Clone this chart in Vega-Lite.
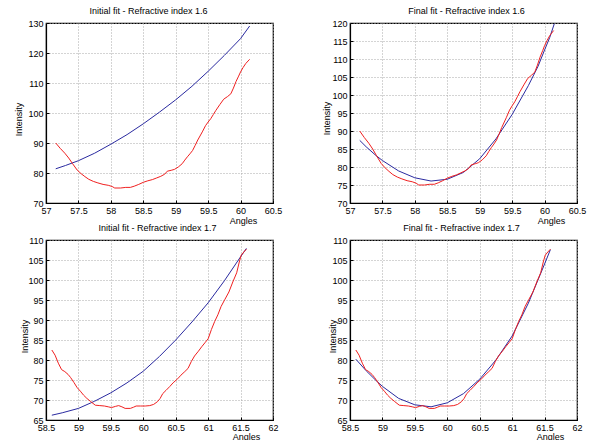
{
  "$schema": "https://vega.github.io/schema/vega-lite/v6.json",
  "padding": {"left": 13, "top": 6, "right": 0, "bottom": 0},
  "bounds": "flush",
  "columns": 2,
  "spacing": {"row": 37, "column": 77},
  "datasets": {
    "top_measured": [
      {"angle": 57.15, "intensity": 90.0}, {"angle": 57.22, "intensity": 88.2}, {"angle": 57.29, "intensity": 86.6}, {"angle": 57.35, "intensity": 85.0},
      {"angle": 57.41, "intensity": 83.1}, {"angle": 57.48, "intensity": 81.0}, {"angle": 57.54, "intensity": 79.8}, {"angle": 57.6, "intensity": 78.8},
      {"angle": 57.66, "intensity": 77.9}, {"angle": 57.73, "intensity": 77.2}, {"angle": 57.8, "intensity": 76.7}, {"angle": 57.88, "intensity": 76.2},
      {"angle": 57.96, "intensity": 75.9}, {"angle": 58.02, "intensity": 75.5}, {"angle": 58.06, "intensity": 75.0}, {"angle": 58.15, "intensity": 75.0},
      {"angle": 58.23, "intensity": 75.2}, {"angle": 58.3, "intensity": 75.2}, {"angle": 58.36, "intensity": 75.6}, {"angle": 58.43, "intensity": 76.2},
      {"angle": 58.5, "intensity": 76.9}, {"angle": 58.57, "intensity": 77.4}, {"angle": 58.64, "intensity": 77.8}, {"angle": 58.7, "intensity": 78.3},
      {"angle": 58.77, "intensity": 78.9}, {"angle": 58.83, "intensity": 79.6}, {"angle": 58.87, "intensity": 80.6}, {"angle": 58.93, "intensity": 80.9},
      {"angle": 58.98, "intensity": 81.2}, {"angle": 59.04, "intensity": 82.0}, {"angle": 59.1, "intensity": 83.1}, {"angle": 59.14, "intensity": 84.3},
      {"angle": 59.18, "intensity": 85.4}, {"angle": 59.22, "intensity": 86.4}, {"angle": 59.26, "intensity": 87.5}, {"angle": 59.3, "intensity": 89.2},
      {"angle": 59.34, "intensity": 91.0}, {"angle": 59.41, "intensity": 93.7}, {"angle": 59.46, "intensity": 95.8}, {"angle": 59.5, "intensity": 97.0},
      {"angle": 59.54, "intensity": 98.1}, {"angle": 59.58, "intensity": 99.5}, {"angle": 59.62, "intensity": 100.9}, {"angle": 59.68, "intensity": 102.8},
      {"angle": 59.74, "intensity": 104.6}, {"angle": 59.8, "intensity": 105.5}, {"angle": 59.85, "intensity": 106.4}, {"angle": 59.89, "intensity": 108.3},
      {"angle": 59.93, "intensity": 110.5}, {"angle": 59.97, "intensity": 112.3}, {"angle": 60.0, "intensity": 113.7}, {"angle": 60.04, "intensity": 115.2},
      {"angle": 60.08, "intensity": 116.5}, {"angle": 60.14, "intensity": 117.9}
    ],
    "bottom_measured": [
      {"angle": 58.59, "intensity": 82.5}, {"angle": 58.64, "intensity": 81.2}, {"angle": 58.69, "intensity": 79.2}, {"angle": 58.74, "intensity": 77.6},
      {"angle": 58.79, "intensity": 77.1}, {"angle": 58.84, "intensity": 76.4}, {"angle": 58.88, "intensity": 75.6}, {"angle": 58.93, "intensity": 74.4},
      {"angle": 58.98, "intensity": 73.1}, {"angle": 59.03, "intensity": 72.2}, {"angle": 59.08, "intensity": 71.2}, {"angle": 59.13, "intensity": 70.4},
      {"angle": 59.19, "intensity": 69.6}, {"angle": 59.26, "intensity": 68.7}, {"angle": 59.33, "intensity": 68.6}, {"angle": 59.4, "intensity": 68.5},
      {"angle": 59.46, "intensity": 68.3}, {"angle": 59.51, "intensity": 68.1}, {"angle": 59.57, "intensity": 68.4}, {"angle": 59.62, "intensity": 68.6},
      {"angle": 59.67, "intensity": 68.3}, {"angle": 59.72, "intensity": 67.9}, {"angle": 59.8, "intensity": 67.9}, {"angle": 59.85, "intensity": 68.2},
      {"angle": 59.89, "intensity": 68.5}, {"angle": 59.96, "intensity": 68.5}, {"angle": 60.03, "intensity": 68.5}, {"angle": 60.1, "intensity": 68.6},
      {"angle": 60.16, "intensity": 68.9}, {"angle": 60.22, "intensity": 69.6}, {"angle": 60.26, "intensity": 70.4}, {"angle": 60.3, "intensity": 71.6},
      {"angle": 60.35, "intensity": 72.4}, {"angle": 60.41, "intensity": 73.4}, {"angle": 60.46, "intensity": 74.3}, {"angle": 60.53, "intensity": 75.3},
      {"angle": 60.58, "intensity": 76.2}, {"angle": 60.64, "intensity": 77.1}, {"angle": 60.69, "intensity": 77.9}, {"angle": 60.74, "intensity": 79.6},
      {"angle": 60.79, "intensity": 81.0}, {"angle": 60.85, "intensity": 82.2}, {"angle": 60.9, "intensity": 83.3}, {"angle": 60.95, "intensity": 84.3},
      {"angle": 61.0, "intensity": 85.3}, {"angle": 61.05, "intensity": 87.6}, {"angle": 61.1, "intensity": 89.6}, {"angle": 61.15, "intensity": 91.3},
      {"angle": 61.2, "intensity": 93.4}, {"angle": 61.26, "intensity": 95.2}, {"angle": 61.32, "intensity": 97.0}, {"angle": 61.38, "intensity": 99.5},
      {"angle": 61.44, "intensity": 101.8}, {"angle": 61.48, "intensity": 104.5}, {"angle": 61.51, "intensity": 106.2}, {"angle": 61.55, "intensity": 107.0},
      {"angle": 61.59, "intensity": 107.7}
    ],
    "fit_initial_16": [
      {"angle": 57.15, "intensity": 81.4}, {"angle": 57.3, "intensity": 82.5}, {"angle": 57.5, "intensity": 84.1}, {"angle": 57.75, "intensity": 86.6},
      {"angle": 58.0, "intensity": 89.6}, {"angle": 58.25, "intensity": 92.8}, {"angle": 58.5, "intensity": 96.4}, {"angle": 58.75, "intensity": 100.3},
      {"angle": 59.0, "intensity": 104.4}, {"angle": 59.25, "intensity": 108.9}, {"angle": 59.5, "intensity": 113.9}, {"angle": 59.75, "intensity": 119.2},
      {"angle": 60.0, "intensity": 124.8}, {"angle": 60.14, "intensity": 129.0}
    ],
    "fit_final_16": [
      {"angle": 57.15, "intensity": 87.4}, {"angle": 57.25, "intensity": 85.6}, {"angle": 57.4, "intensity": 83.2}, {"angle": 57.5, "intensity": 81.8},
      {"angle": 57.75, "intensity": 78.9}, {"angle": 58.0, "intensity": 77.0}, {"angle": 58.25, "intensity": 76.1}, {"angle": 58.5, "intensity": 76.6},
      {"angle": 58.75, "intensity": 78.5}, {"angle": 59.0, "intensity": 82.3}, {"angle": 59.25, "intensity": 87.8}, {"angle": 59.5, "intensity": 94.6},
      {"angle": 59.75, "intensity": 102.6}, {"angle": 59.9, "intensity": 108.0}, {"angle": 60.0, "intensity": 112.5}, {"angle": 60.08, "intensity": 116.0},
      {"angle": 60.15, "intensity": 119.8}
    ],
    "fit_initial_17": [
      {"angle": 58.59, "intensity": 66.2}, {"angle": 58.75, "intensity": 66.8}, {"angle": 59.0, "intensity": 67.9}, {"angle": 59.25, "intensity": 69.7},
      {"angle": 59.5, "intensity": 71.8}, {"angle": 59.75, "intensity": 74.3}, {"angle": 60.0, "intensity": 77.2}, {"angle": 60.25, "intensity": 80.9},
      {"angle": 60.5, "intensity": 85.0}, {"angle": 60.75, "intensity": 89.5}, {"angle": 61.0, "intensity": 94.3}, {"angle": 61.25, "intensity": 99.8},
      {"angle": 61.5, "intensity": 105.8}, {"angle": 61.59, "intensity": 107.9}
    ],
    "fit_final_17": [
      {"angle": 58.59, "intensity": 80.2}, {"angle": 58.75, "intensity": 77.3}, {"angle": 58.9, "intensity": 74.9}, {"angle": 59.0, "intensity": 73.4},
      {"angle": 59.25, "intensity": 70.4}, {"angle": 59.5, "intensity": 68.8}, {"angle": 59.75, "intensity": 68.3}, {"angle": 60.0, "intensity": 69.3},
      {"angle": 60.25, "intensity": 71.6}, {"angle": 60.5, "intensity": 75.2}, {"angle": 60.75, "intensity": 80.0}, {"angle": 61.0, "intensity": 86.0},
      {"angle": 61.25, "intensity": 94.2}, {"angle": 61.5, "intensity": 104.0}, {"angle": 61.59, "intensity": 107.6}
    ]
  },
  "concat": [
    {
      "width": 227, "height": 180,
      "title": {"text": "Initial fit - Refractive index 1.6", "dx": -11},
      "layer": [
        {
          "data": {"name": "fit_initial_16"},
          "mark": {"type": "line", "color": "#2a2aa0", "strokeWidth": 1},
          "encoding": {
            "x": {"field": "angle", "type": "quantitative", "scale": {"domain": [57, 60.5], "nice": false, "zero": false},
                  "axis": {"title": "Angles", "values": [57, 57.5, 58, 58.5, 59, 59.5, 60, 60.5], "titleX": 197, "titleY": 20.5}},
            "y": {"field": "intensity", "type": "quantitative", "scale": {"domain": [70, 130], "nice": false, "zero": false},
                  "axis": {"title": "Intensity", "values": [70, 80, 90, 100, 110, 120, 130], "titleX": -25, "titleY": 96}}
          }
        },
        {
          "data": {"name": "top_measured"},
          "mark": {"type": "line", "color": "#f02020", "strokeWidth": 1},
          "encoding": {
            "x": {"field": "angle", "type": "quantitative"},
            "y": {"field": "intensity", "type": "quantitative"}
          }
        }
      ]
    },
    {
      "width": 227, "height": 180,
      "title": {"text": "Final fit - Refractive index 1.6", "dx": 3},
      "layer": [
        {
          "data": {"name": "fit_final_16"},
          "mark": {"type": "line", "color": "#2a2aa0", "strokeWidth": 1},
          "encoding": {
            "x": {"field": "angle", "type": "quantitative", "scale": {"domain": [57, 60.5], "nice": false, "zero": false},
                  "axis": {"title": "Angles", "values": [57, 57.5, 58, 58.5, 59, 59.5, 60, 60.5], "titleX": 201, "titleY": 20.5}},
            "y": {"field": "intensity", "type": "quantitative", "scale": {"domain": [70, 120], "nice": false, "zero": false},
                  "axis": {"title": "Intensity", "values": [70, 75, 80, 85, 90, 95, 100, 105, 110, 115, 120], "titleX": -20.5, "titleY": 95}}
          }
        },
        {
          "data": {"name": "top_measured"},
          "mark": {"type": "line", "color": "#f02020", "strokeWidth": 1},
          "encoding": {
            "x": {"field": "angle", "type": "quantitative"},
            "y": {"field": "intensity", "type": "quantitative"}
          }
        }
      ]
    },
    {
      "width": 227, "height": 180,
      "title": {"text": "Initial fit - Refractive index 1.7", "dx": -2},
      "layer": [
        {
          "data": {"name": "fit_initial_17"},
          "mark": {"type": "line", "color": "#2a2aa0", "strokeWidth": 1},
          "encoding": {
            "x": {"field": "angle", "type": "quantitative", "scale": {"domain": [58.5, 62], "nice": false, "zero": false},
                  "axis": {"title": "Angles", "values": [58.5, 59, 59.5, 60, 60.5, 61, 61.5, 62], "titleX": 200, "titleY": 19}},
            "y": {"field": "intensity", "type": "quantitative", "scale": {"domain": [65, 110], "nice": false, "zero": false},
                  "axis": {"title": "Intensity", "values": [65, 70, 75, 80, 85, 90, 95, 100, 105, 110], "titleX": -19, "titleY": 96}}
          }
        },
        {
          "data": {"name": "bottom_measured"},
          "mark": {"type": "line", "color": "#f02020", "strokeWidth": 1},
          "encoding": {
            "x": {"field": "angle", "type": "quantitative"},
            "y": {"field": "intensity", "type": "quantitative"}
          }
        }
      ]
    },
    {
      "width": 227, "height": 180,
      "title": {"text": "Final fit - Refractive index 1.7", "dx": -2},
      "layer": [
        {
          "data": {"name": "fit_final_17"},
          "mark": {"type": "line", "color": "#2a2aa0", "strokeWidth": 1},
          "encoding": {
            "x": {"field": "angle", "type": "quantitative", "scale": {"domain": [58.5, 62], "nice": false, "zero": false},
                  "axis": {"title": "Angles", "values": [58.5, 59, 59.5, 60, 60.5, 61, 61.5, 62], "titleX": 200, "titleY": 19}},
            "y": {"field": "intensity", "type": "quantitative", "scale": {"domain": [65, 110], "nice": false, "zero": false},
                  "axis": {"title": "Intensity", "values": [65, 70, 75, 80, 85, 90, 95, 100, 105, 110], "titleX": -15, "titleY": 96}}
          }
        },
        {
          "data": {"name": "bottom_measured"},
          "mark": {"type": "line", "color": "#f02020", "strokeWidth": 1},
          "encoding": {
            "x": {"field": "angle", "type": "quantitative"},
            "y": {"field": "intensity", "type": "quantitative"}
          }
        }
      ]
    }
  ],
  "config": {
    "font": "Liberation Sans",
    "view": {"stroke": "#000", "strokeWidth": 1.2},
    "axis": {
      "labelFont": "Liberation Sans", "labelFontSize": 9, "labelColor": "#000",
      "titleFont": "Liberation Sans", "titleFontSize": 9, "titleFontWeight": "normal", "titleColor": "#000",
      "titleBaseline": "alphabetic", "titleAlign": "center",
      "domainColor": "#000", "domainWidth": 1.2,
      "gridColor": "#a8a8a8", "gridDash": [1, 2], "gridOpacity": 1, "gridWidth": 1,
      "tickColor": "#000", "tickSize": -3, "labelPadding": 6, "tickCount": 30,
      "labelFlush": false, "labelOverlap": false, "format": ".4~r"
    },
    "axisY": {"titleAngle": 270},
    "title": {"font": "Liberation Sans", "fontSize": 9, "fontWeight": "normal", "color": "#000", "anchor": "middle", "offset": 3, "baseline": "alphabetic"}
  }
}
